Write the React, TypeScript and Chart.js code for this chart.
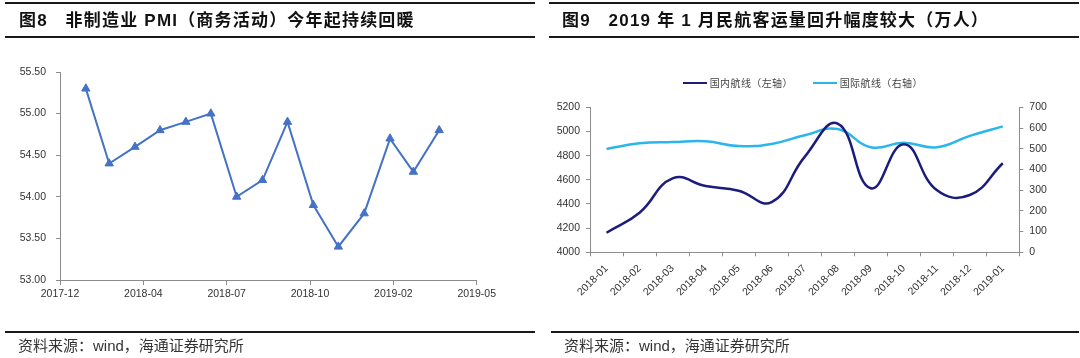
import React, { useEffect, useRef } from "react";
import { Chart, registerables } from "chart.js";

Chart.register(...registerables);

// ---------- Data: Figure 8 (non-manufacturing PMI, business activity) ----------
const pmiMonths = [
  "2018-01", "2018-02", "2018-03", "2018-04", "2018-05", "2018-06", "2018-07",
  "2018-08", "2018-09", "2018-10", "2018-11", "2018-12", "2019-01", "2019-02", "2019-03",
];
const pmiValues = [55.3, 54.4, 54.6, 54.8, 54.9, 55.0, 54.0, 54.2, 54.9, 53.9, 53.4, 53.8, 54.7, 54.3, 54.8];
const pmiAxisStart = "2017-12-31"; // date axis origin
const pmiAxisDays = 500; // axis length in days
const pmiTickStepDays = 100;
const pmiYMin = 53.0;
const pmiYMax = 55.5;
const pmiYStep = 0.5;

// ---------- Data: Figure 9 (civil aviation passengers, 10k people) ----------
const flightMonths = [
  "2018-01", "2018-02", "2018-03", "2018-04", "2018-05", "2018-06", "2018-07",
  "2018-08", "2018-09", "2018-10", "2018-11", "2018-12", "2019-01",
];
const domesticValues = [4162, 4328, 4612, 4549, 4510, 4415, 4790, 5065, 4530, 4894, 4515, 4474, 4737];
const internationalValues = [499, 526, 532, 536, 513, 523, 565, 595, 507, 529, 507, 562, 608];
const domesticLabel = "国内航线（左轴）";
const internationalLabel = "国际航线（右轴）";
const leftAxisRange = [4000, 5200, 200];
const rightAxisRange = [0, 700, 100];

const DAY = 86400000;
const startMs = Date.parse(pmiAxisStart + "T00:00:00Z");
function monthEndDays(ym: string): number {
  const [y, m] = ym.split("-").map(Number);
  const end = Date.UTC(y, m, 0); // last day of month m
  return Math.round((end - startMs) / DAY);
}
function dayLabel(v: number): string {
  const d = new Date(startMs + v * DAY);
  const mm = String(d.getUTCMonth() + 1).padStart(2, "0");
  return `${d.getUTCFullYear()}-${mm}`;
}

const LATIN = "'Liberation Sans', Arial, 'Noto Sans CJK SC', sans-serif";
const AXIS_COLOR = "#8c8c8c";
const TEXT_COLOR = "#333333";
const TICK_FONT = { family: LATIN, size: 10.5 };

function PmiChart() {
  const ref = useRef<HTMLCanvasElement | null>(null);
  useEffect(() => {
    if (!ref.current) return;
    const chart = new Chart(ref.current, {
      type: "line",
      data: {
        datasets: [
          {
            label: "PMI",
            data: pmiMonths.map((m, i) => ({ x: monthEndDays(m), y: pmiValues[i] })),
            borderColor: "#4472C4",
            backgroundColor: "#4472C4",
            borderWidth: 2,
            pointStyle: "triangle",
            pointRadius: 4.8,
            pointBorderWidth: 1,
            pointBackgroundColor: "#4472C4",
            pointBorderColor: "#4472C4",
            tension: 0,
          },
        ],
      },
      options: {
        animation: false,
        responsive: false,
        events: [],
        layout: { padding: { top: 72, bottom: 48, left: 0, right: 63.3 } },
        plugins: { legend: { display: false }, tooltip: { enabled: false } },
        scales: {
          x: {
            type: "linear",
            min: 0,
            max: pmiAxisDays,
            afterFit: (s: any) => { s.height = 30; },
            ticks: {
              stepSize: pmiTickStepDays,
              callback: (v: any) => dayLabel(Number(v)),
              font: TICK_FONT,
              color: TEXT_COLOR,
              padding: 3,
              maxRotation: 0,
            },
            grid: { drawOnChartArea: false, tickLength: 5, color: AXIS_COLOR },
            border: { color: AXIS_COLOR, width: 1 },
          },
          y: {
            min: pmiYMin,
            max: pmiYMax,
            afterFit: (s: any) => { s.width = 60; },
            ticks: {
              stepSize: pmiYStep,
              callback: (v: any) => Number(v).toFixed(2),
              font: TICK_FONT,
              color: TEXT_COLOR,
              padding: 10,
            },
            grid: { drawOnChartArea: false, tickLength: 4, color: AXIS_COLOR },
            border: { color: AXIS_COLOR, width: 1 },
          },
        },
      },
    });
    return () => chart.destroy();
  }, []);
  return (
    <canvas
      ref={ref}
      width={540}
      height={358}
      style={{ position: "absolute", left: 0, top: 0, width: 540, height: 358 }}
    />
  );
}

function FlightChart() {
  const ref = useRef<HTMLCanvasElement | null>(null);
  useEffect(() => {
    if (!ref.current) return;
    const chart = new Chart(ref.current, {
      type: "line",
      data: {
        labels: flightMonths,
        datasets: [
          {
            label: domesticLabel,
            data: domesticValues,
            yAxisID: "y",
            borderColor: "#1C1C7C",
            borderWidth: 2.5,
            pointRadius: 0,
            tension: 0.45,
          },
          {
            label: internationalLabel,
            data: internationalValues,
            yAxisID: "y1",
            borderColor: "#2CB5EA",
            borderWidth: 2.5,
            pointRadius: 0,
            tension: 0.45,
          },
        ],
      },
      options: {
        animation: false,
        responsive: false,
        events: [],
        layout: { padding: { top: 107.3, bottom: 55.7, left: 0, right: 0 } },
        plugins: { legend: { display: false }, tooltip: { enabled: false } },
        scales: {
          x: {
            type: "category",
            offset: true,
            afterFit: (s: any) => { s.height = 50; },
            ticks: {
              autoSkip: false,
              minRotation: 45,
              maxRotation: 45,
              font: TICK_FONT,
              color: TEXT_COLOR,
              padding: 6,
            },
            grid: { offset: true, drawOnChartArea: false, tickLength: 4, color: AXIS_COLOR },
            border: { color: AXIS_COLOR, width: 1 },
          },
          y: {
            position: "left",
            min: leftAxisRange[0],
            max: leftAxisRange[1],
            afterFit: (s: any) => { s.width = 50; },
            ticks: {
              stepSize: leftAxisRange[2],
              callback: (v: any) => String(v),
              font: TICK_FONT,
              color: TEXT_COLOR,
              padding: 6,
            },
            grid: { drawOnChartArea: false, tickLength: 4, color: AXIS_COLOR },
            border: { color: AXIS_COLOR, width: 1 },
          },
          y1: {
            position: "right",
            min: rightAxisRange[0],
            max: rightAxisRange[1],
            afterFit: (s: any) => { s.width = 60.7; },
            ticks: {
              stepSize: rightAxisRange[2],
              callback: (v: any) => String(v),
              font: TICK_FONT,
              color: TEXT_COLOR,
              padding: 6,
            },
            grid: { drawOnChartArea: false, tickLength: 4, color: AXIS_COLOR },
            border: { color: AXIS_COLOR, width: 1 },
          },
        },
      },
    });
    return () => chart.destroy();
  }, []);
  return (
    <canvas
      ref={ref}
      width={540}
      height={358}
      style={{ position: "absolute", left: 540, top: 0, width: 540, height: 358 }}
    />
  );
}

function Rule({ left, top, width, h }: { left: number; top: number; width: number; h: number }) {
  return <div style={{ position: "absolute", left, top, width, height: h, background: "#1a1a1a" }} />;
}

const titleStyle: React.CSSProperties = {
  position: "absolute",
  top: 10,
  fontFamily: LATIN,
  fontWeight: 700,
  fontSize: 17,
  letterSpacing: 1.2,
  lineHeight: "22px",
  color: "#111",
  whiteSpace: "pre",
};
const footStyle: React.CSSProperties = {
  position: "absolute",
  top: 337,
  fontFamily: LATIN,
  fontSize: 15,
  lineHeight: "18px",
  color: "#333",
  whiteSpace: "pre",
};
const legendText: React.CSSProperties = {
  fontFamily: "'Noto Sans CJK SC', sans-serif",
  fontSize: 10,
  color: "#444",
  letterSpacing: 0.4,
  lineHeight: "12px",
};

function LegendItem({ left, color, text }: { left: number; color: string; text: string }) {
  return (
    <div style={{ position: "absolute", left, top: 77, display: "flex", alignItems: "center", height: 12 }}>
      <span style={{ display: "inline-block", width: 24, height: 2.5, background: color, marginRight: 3 }} />
      <span style={legendText}>{text}</span>
    </div>
  );
}

export default function App() {
  useEffect(() => {
    document.body.style.margin = "0";
  }, []);
  return (
    <div style={{ position: "absolute", left: 0, top: 0, width: 1080, height: 358, background: "#fff", overflow: "hidden" }}>
      <PmiChart />
      <FlightChart />
      <Rule left={5} top={2} width={530} h={2} />
      <Rule left={5} top={36} width={530} h={1.5} />
      <Rule left={549} top={2} width={530} h={2} />
      <Rule left={549} top={36} width={530} h={1.5} />
      <div style={{ ...titleStyle, left: 19 }}>{"图8   非制造业 PMI（商务活动）今年起持续回暖"}</div>
      <div style={{ ...titleStyle, left: 562 }}>{"图9   2019 年 1 月民航客运量回升幅度较大（万人）"}</div>
      <LegendItem left={682.7} color="#1C1C7C" text={domesticLabel} />
      <LegendItem left={812.7} color="#2CB5EA" text={internationalLabel} />
      <Rule left={5} top={331} width={530} h={1.5} />
      <Rule left={551} top={331} width={528} h={1.5} />
      <div style={{ ...footStyle, left: 18 }}>{"资料来源：wind，海通证券研究所"}</div>
      <div style={{ ...footStyle, left: 564 }}>{"资料来源：wind，海通证券研究所"}</div>
    </div>
  );
}
